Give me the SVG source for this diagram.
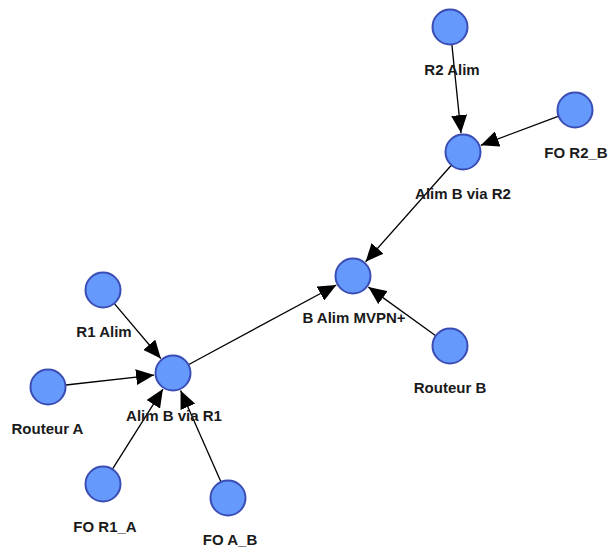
<svg xmlns="http://www.w3.org/2000/svg" width="609" height="549" viewBox="0 0 609 549">
<defs>
<marker id="arr" markerUnits="userSpaceOnUse" markerWidth="18" markerHeight="16" refX="18" refY="8" orient="auto">
<path d="M0,0 L18,8 L0,16 z" fill="#000"/>
</marker>
<style>
.edge{stroke:#000;stroke-width:1.3;fill:none;marker-end:url(#arr)}
.node circle{fill:#6699fc;stroke:#3a4db5;stroke-width:2}
.node text{font-family:"Liberation Sans",Arial,sans-serif;font-weight:bold;font-size:15px;fill:#1a1a1a;text-anchor:middle}
</style>
</defs>
<rect width="609" height="549" fill="#fff"/>
<g id="connectors">
<line class="edge" x1="451.9" y1="44.9" x2="461.0" y2="133.1"/>
<line class="edge" x1="558.1" y1="116.3" x2="480.8" y2="145.3"/>
<line class="edge" x1="451.1" y1="165.5" x2="365.6" y2="261.8"/>
<line class="edge" x1="188.8" y1="364.5" x2="336.3" y2="285.0"/>
<line class="edge" x1="435.4" y1="335.5" x2="368.4" y2="287.1"/>
<line class="edge" x1="114.6" y1="303.8" x2="160.8" y2="358.5"/>
<line class="edge" x1="65.9" y1="385.0" x2="154.1" y2="375.1"/>
<line class="edge" x1="112.6" y1="468.8" x2="162.9" y2="389.1"/>
<line class="edge" x1="220.8" y1="481.5" x2="180.6" y2="390.4"/>
</g>
<g id="r2alim" class="node"><circle cx="450" cy="27" r="17.5"/><text x="452" y="75">R2 Alim</text></g>
<g id="for2b" class="node"><circle cx="575" cy="110" r="17.5"/><text x="576" y="158">FO R2_B</text></g>
<g id="alimbviar2" class="node"><circle cx="463" cy="152" r="17.5"/><text x="463" y="199">Alim B via R2</text></g>
<g id="balimmvpn" class="node"><circle cx="353" cy="276" r="17.5"/><text x="354" y="323">B Alim MVPN+</text></g>
<g id="routeurb" class="node"><circle cx="450" cy="346" r="17.5"/><text x="450" y="393">Routeur B</text></g>
<g id="r1alim" class="node"><circle cx="103" cy="290" r="17.5"/><text x="104" y="337">R1 Alim</text></g>
<g id="routeura" class="node"><circle cx="48" cy="387" r="17.5"/><text x="47.5" y="434">Routeur A</text></g>
<g id="alimbviar1" class="node"><circle cx="173" cy="373" r="17.5"/><text x="174" y="421">Alim B via R1</text></g>
<g id="for1a" class="node"><circle cx="103" cy="484" r="17.5"/><text x="105" y="531.5">FO R1_A</text></g>
<g id="foab" class="node"><circle cx="228" cy="498" r="17.5"/><text x="230" y="545">FO A_B</text></g>
</svg>
